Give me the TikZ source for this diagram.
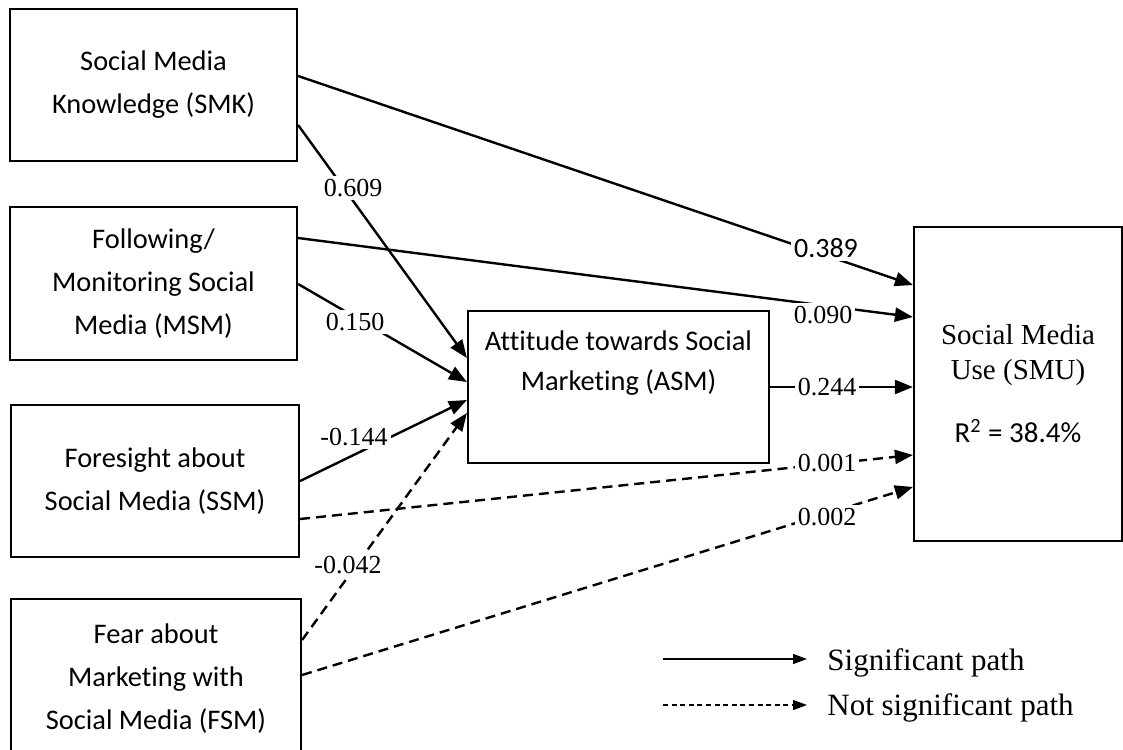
\documentclass[tikz,border=0pt]{standalone}
\usepackage{fontspec}
\setmainfont{Liberation Serif}
\newfontfamily\calibri[Ligatures=NoCommon]{Carlito}
\usetikzlibrary{arrows.meta}
\tikzset{
  box/.style={draw, line width=1.1pt, align=center, inner sep=0pt,
    font=\calibri\fontsize{14.2}{21.5}\selectfont},
  sigpath/.style={line width=1.2pt, -{Triangle[length=9pt,width=7pt]}},
  nspath/.style={sigpath, dash pattern=on 5pt off 3pt},
  coef/.style={fill=white, inner sep=1.5pt, font=\fontsize{13}{15}\selectfont},
  legtext/.style={anchor=west, inner sep=0pt, font=\fontsize{15.5}{18}\selectfont}
}
\begin{document}
\begin{tikzpicture}[x=0.5pt, y=-0.5pt]
      \useasboundingbox (0,0) rectangle (1123,749);
      % constructs
      \node[box, minimum width=143.5pt, minimum height=76pt] (smk) at (153.5,85) {Social Media\\Knowledge (SMK)};
      \node[box, minimum width=143.5pt, minimum height=76.5pt] (msm) at (153.5,283.5) {Following/\\Monitoring Social\\Media (MSM)};
      \node[box, minimum width=144pt, minimum height=76pt] (ssm) at (155,481) {Foresight about\\Social Media (SSM)};
      \node[box, minimum width=145pt, minimum height=80pt] (fsm) at (156,679) {Fear about\\Marketing with\\Social Media (FSM)};
      \node[box, minimum width=150.5pt, minimum height=76pt,
        font=\calibri\fontsize{14.2}{20}\selectfont] (asm) at (618.5,387) {Attitude towards Social\\Marketing (ASM)\\\strut};
      \node[box, minimum width=104pt, minimum height=157pt,
        font=\fontsize{14.5}{17.5}\selectfont] (smu) at (1018,384) {Social Media\\Use (SMU)\\[14pt]{\calibri R\textsuperscript{2} = 38.4\%}};
      % paths
      \draw[sigpath] (smk.east |- 0,125) to (asm.west |- 0,358);
      \draw[sigpath] (msm.east |- 0,284) to (asm.west |- 0,382);
      \draw[sigpath] (ssm.east |- 0,481) to (asm.west |- 0,400);
      \draw[nspath] (fsm.east |- 0,640) to (asm.west |- 0,413);
      \draw[sigpath] (smk.east |- 0,76) to (smu.west |- 0,285);
      \draw[sigpath] (msm.east |- 0,238) to (smu.west |- 0,317);
      \draw[sigpath] (asm.east) to (asm.east -| smu.west);
      \draw[nspath] (ssm.east |- 0,519) to (smu.west |- 0,455);
      \draw[nspath] (fsm.east |- 0,675) to (smu.west |- 0,487);
      % coefficients
      \node[coef] (c609) at (353,188) {0.609};
      \node[coef] (c150) at (355,322) {0.150};
      \node[coef] (c144) at (354,437) {-0.144};
      \node[coef] (c042) at (348,565) {-0.042};
      \node[coef, font=\calibri\fontsize{14}{16}\selectfont] (c389) at (826,248) {0.389};
      \node[coef] (c090) at (823,315) {0.090};
      \node[coef] (c244) at (827,387) {0.244};
      \node[coef] (c001) at (827,463) {0.001};
      \node[coef] (c002) at (827,517) {0.002};
      % legend
      \coordinate (sigS) at (663,659);
      \coordinate (sigE) at (807,659);
      \coordinate (nsS) at (663,705);
      \coordinate (nsE) at (807,705);
      \draw[line width=0.6pt, -{Triangle[length=7pt,width=5pt]}] (sigS) -- (sigE);
      \draw[line width=0.6pt, dash pattern=on 2.5pt off 1.8pt, -{Triangle[length=7pt,width=5pt]}] (nsS) -- (nsE);
      \node[legtext] (sig) at (827,663) {Significant path};
      \node[legtext] (nsig) at (827,708) {Not significant path};
    \end{tikzpicture}
\end{document}
